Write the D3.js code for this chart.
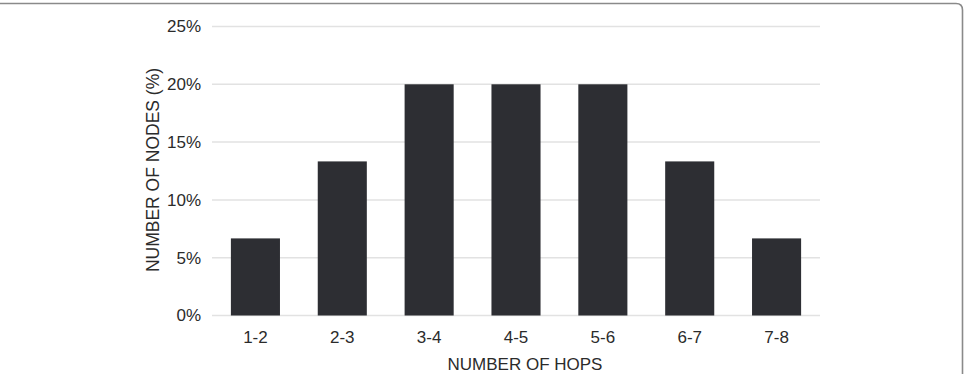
<!DOCTYPE html>
<html>
<head>
<meta charset="utf-8">
<script src="https://cdn.jsdelivr.net/npm/d3@7"></script>
<style>
  body { margin: 0; background: #fff; }
  text { font-family: "Liberation Sans", Arial, Helvetica, sans-serif; fill: #2b2b2b; }
</style>
</head>
<body>
<script>
const hops = ['1-2', '2-3', '3-4', '4-5', '5-6', '6-7', '7-8'];
const nodePct = [6.67, 13.33, 20, 20, 20, 13.33, 6.67];
const yTicks = [0, 5, 10, 15, 20, 25];

const width = 966;
const height = 374;
const margin = {top: 26.5, right: 146, bottom: 58.5, left: 212};

const svg = d3.select('body')
    .append('svg')
    .attr('width', width)
    .attr('height', height);

// frame round the figure (top and right edge only show)
svg.append('path')
    .attr('d', 'M0,3.5 H956 Q962.5,3.5 962.5,10 V374')
    .attr('fill', 'none')
    .attr('stroke', '#8a8a8a')
    .attr('stroke-width', 1.6);

const xScale = d3.scaleBand()
    .domain(hops)
    .range([margin.left, width - margin.right])
    .paddingInner(0.435)
    .paddingOuter(0.2175);

const yScale = d3.scaleLinear()
    .domain([0, 25])
    .range([height - margin.bottom, margin.top]);

// gridlines
svg.append('g')
    .selectAll('line')
    .data(yTicks)
    .enter()
    .append('line')
    .attr('x1', margin.left)
    .attr('x2', width - margin.right)
    .attr('y1', d => yScale(d))
    .attr('y2', d => yScale(d))
    .attr('stroke', '#e2e2e2')
    .attr('stroke-width', 1.5);

const yAxis = d3.axisLeft(yScale)
    .tickValues(yTicks)
    .tickSize(0)
    .tickPadding(11)
    .tickFormat(d => d + '%');

const gy = svg.append('g')
    .attr('transform', 'translate(' + margin.left + ',0)')
    .call(yAxis);
gy.select('.domain').remove();
gy.selectAll('text').style('font-size', '17px').attr('fill', '#2b2b2b');

const xAxis = d3.axisBottom(xScale)
    .tickSize(0)
    .tickPadding(15);

const gx = svg.append('g')
    .attr('transform', 'translate(0,' + (height - margin.bottom) + ')')
    .call(xAxis);
gx.select('.domain').remove();
gx.selectAll('text').style('font-size', '17px').attr('fill', '#2b2b2b');

svg.selectAll('rect.bar')
    .data(nodePct)
    .enter()
    .append('rect')
    .attr('class', 'bar')
    .attr('x', (d, i) => xScale(hops[i]))
    .attr('y', d => yScale(d))
    .attr('width', xScale.bandwidth())
    .attr('height', d => yScale(0) - yScale(d))
    .attr('fill', '#2d2e33');

svg.append('text')
    .attr('x', 525)
    .attr('y', 369.5)
    .attr('text-anchor', 'middle')
    .style('font-size', '17px')
    .text('NUMBER OF HOPS');

svg.append('text')
    .attr('transform', 'translate(158.5,170) rotate(-90)')
    .attr('text-anchor', 'middle')
    .style('font-size', '17.5px')
    .text('NUMBER OF NODES (%)');
</script>
</body>
</html>
